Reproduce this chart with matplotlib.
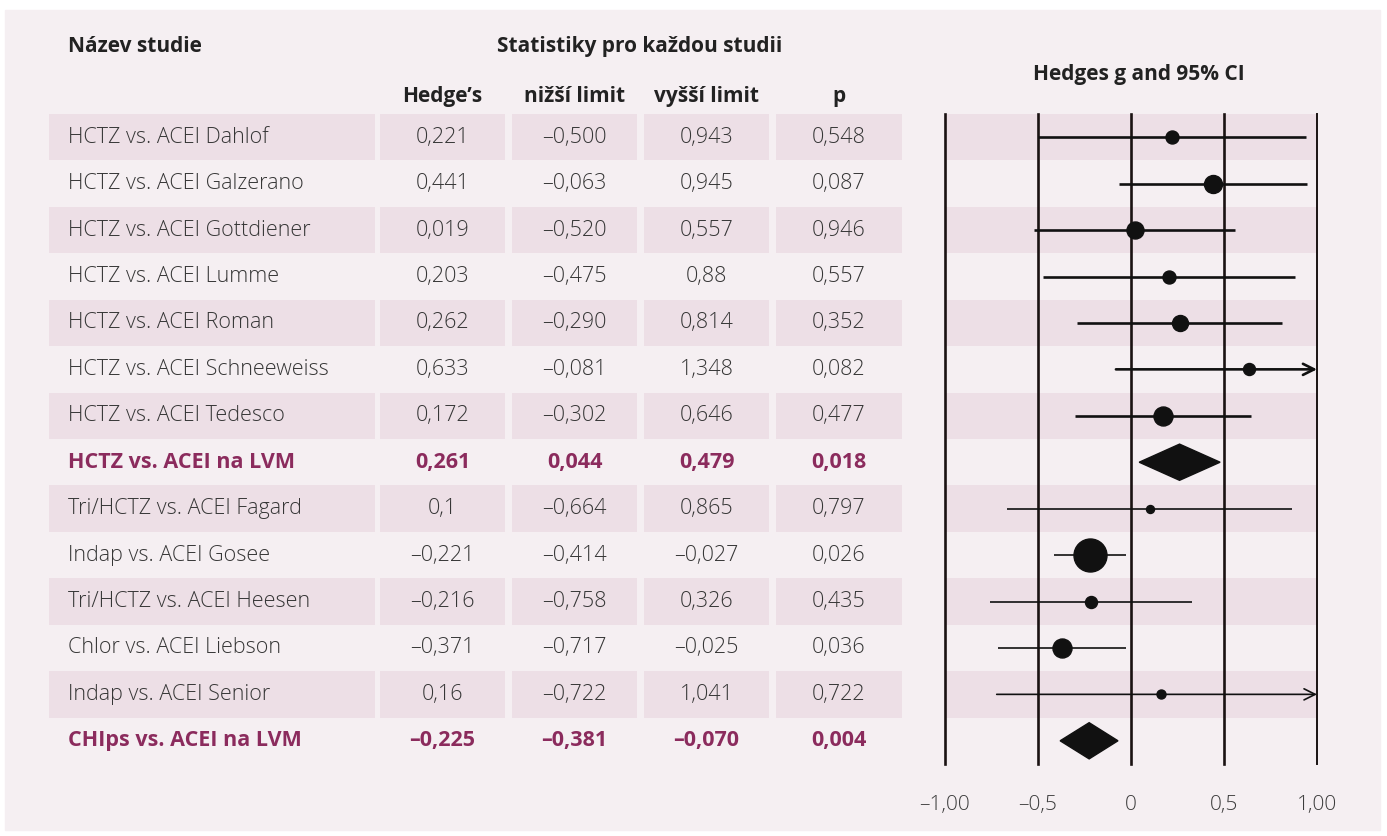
import matplotlib.pyplot as plt
from matplotlib.patches import Rectangle, Polygon

# data from the table (as printed, decimal comma)
studie = ["HCTZ vs. ACEI Dahlof", "HCTZ vs. ACEI Galzerano", "HCTZ vs. ACEI Gottdiener",
          "HCTZ vs. ACEI Lumme", "HCTZ vs. ACEI Roman", "HCTZ vs. ACEI Schneeweiss",
          "HCTZ vs. ACEI Tedesco", "HCTZ vs. ACEI na LVM", "Tri/HCTZ vs. ACEI Fagard",
          "Indap vs. ACEI Gosee", "Tri/HCTZ vs. ACEI Heesen", "Chlor vs. ACEI Liebson",
          "Indap vs. ACEI Senior", "CHIps vs. ACEI na LVM"]
hedges = ["0,221", "0,441", "0,019", "0,203", "0,262", "0,633", "0,172", "0,261",
          "0,1", "–0,221", "–0,216", "–0,371", "0,16", "–0,225"]
nizsi = ["–0,500", "–0,063", "–0,520", "–0,475", "–0,290", "–0,081", "–0,302", "0,044",
         "–0,664", "–0,414", "–0,758", "–0,717", "–0,722", "–0,381"]
vyssi = ["0,943", "0,945", "0,557", "0,88", "0,814", "1,348", "0,646", "0,479",
         "0,865", "–0,027", "0,326", "–0,025", "1,041", "–0,070"]
p_hodn = ["0,548", "0,087", "0,946", "0,557", "0,352", "0,082", "0,477", "0,018",
          "0,797", "0,026", "0,435", "0,036", "0,722", "0,004"]
souhrn = [7, 13]  # summary rows
# relative weight -> marker diameter in px
vaha = [13, 18, 17, 13, 16, 12, 19, 0, 8, 33, 12, 19, 9, 0]
xticks = [-1.0, -0.5, 0, 0.5, 1.0]
xticklab = ["–1,00", "–0,5", "0", "0,5", "1,00"]


def num(s):
    return float(s.replace("–", "-").replace(",", "."))


W, H = 1387, 836
bg = "#f5eff2"
shade = "#eddfe6"
txt = "#363636"
fial = "#8b2b5d"
plt.rcParams['font.family'] = ['Open Sans', 'DejaVu Sans']

fig = plt.figure(figsize=(W / 100, H / 100), dpi=100)
fig.patches.append(Rectangle((5 / W, 6 / H), 1375 / W, 820 / H, transform=fig.transFigure,
                             color=bg, zorder=-10))

n = len(studie)
top, bot = 114, 764
ax_b = 1 - bot / H
ax_h = (bot - top) / H

# ---- table ----
tab = fig.add_axes([0, ax_b, 1, ax_h])
tab.set_xlim(0, W)
tab.set_ylim(n - 0.5, -0.5)
tab.axis("off")
cols = [(49, 375), (380, 505), (512, 637), (644, 769), (776, 902)]
for i in range(n):
    if i % 2 == 0:
        for a, b in cols:
            tab.add_patch(Rectangle((a, i - 0.5), b - a, 1, color=shade, lw=0))
    bold = i in souhrn
    c = fial if bold else txt
    fw = "bold" if bold else "light"
    fs = 15.5
    tab.text(68, i, studie[i], ha="left", va="center", fontsize=fs, color=c, fontweight=fw)
    for (a, b), v in zip(cols[1:], [hedges[i], nizsi[i], vyssi[i], p_hodn[i]]):
        tab.text((a + b) / 2, i, v, ha="center", va="center", fontsize=fs, color=c, fontweight=fw)

hfs = 15
tab.text(68, -1.95, "Název studie", ha="left", va="center", fontsize=hfs,
         fontweight="bold", color="#222222")
tab.text(640, -1.95, "Statistiky pro každou studii", ha="center", va="center", fontsize=hfs,
         fontweight="bold", color="#222222")
for (a, b), h in zip(cols[1:], ["Hedge’s", "nižší limit", "vyšší limit", "p"]):
    tab.text((a + b) / 2, -0.88, h, ha="center", va="center", fontsize=hfs,
             fontweight="bold", color="#222222")
tab.text(1139, -1.35, "Hedges g and 95% CI", ha="center", va="center", fontsize=hfs,
         fontweight="bold", color="#222222")

# ---- forest plot ----
ax = fig.add_axes([945 / W, ax_b, 372 / W, ax_h])
ax.patch.set_alpha(0)
ax.set_xlim(-1.0, 1.0)
ax.set_ylim(n - 0.5, -0.5)
for s in ax.spines.values():
    s.set_visible(False)
for i in range(0, n, 2):
    ax.axhspan(i - 0.5, i + 0.5, color=shade, lw=0, zorder=0)
for x in xticks:
    ax.axvline(x, color="#1a1212", lw=1.9 if x < 1 else 1.4, zorder=1, clip_on=False)
ax.set_yticks([])
ax.set_xticks(xticks)
ax.set_xticklabels(xticklab, fontsize=15, color="#3c3c3c", fontweight="light")
ax.tick_params(axis="x", length=0, pad=22)

for i in range(n):
    g, lo, hi = num(hedges[i]), num(nizsi[i]), num(vyssi[i])
    if i in souhrn:
        ax.add_patch(Polygon([(lo, i), (g, i - 0.39), (hi, i), (g, i + 0.39)],
                             closed=True, color="#111111", zorder=3))
        continue
    lw = 1.9 if i < 7 else 1.2
    if hi > 1.0:
        ax.annotate("", xy=(1.0, i), xytext=(lo, i),
                    arrowprops=dict(arrowstyle="->", color="#111111", lw=lw,
                                    shrinkA=0, shrinkB=0, mutation_scale=20),
                    zorder=2, annotation_clip=False)
    else:
        ax.plot([lo, hi], [i, i], color="#111111", lw=lw, zorder=2, solid_capstyle="butt")
    ax.plot([g], [i], "o", color="#111111", ms=vaha[i] * 0.72, zorder=3)

fig.savefig("out.png", dpi=100, facecolor="white")
